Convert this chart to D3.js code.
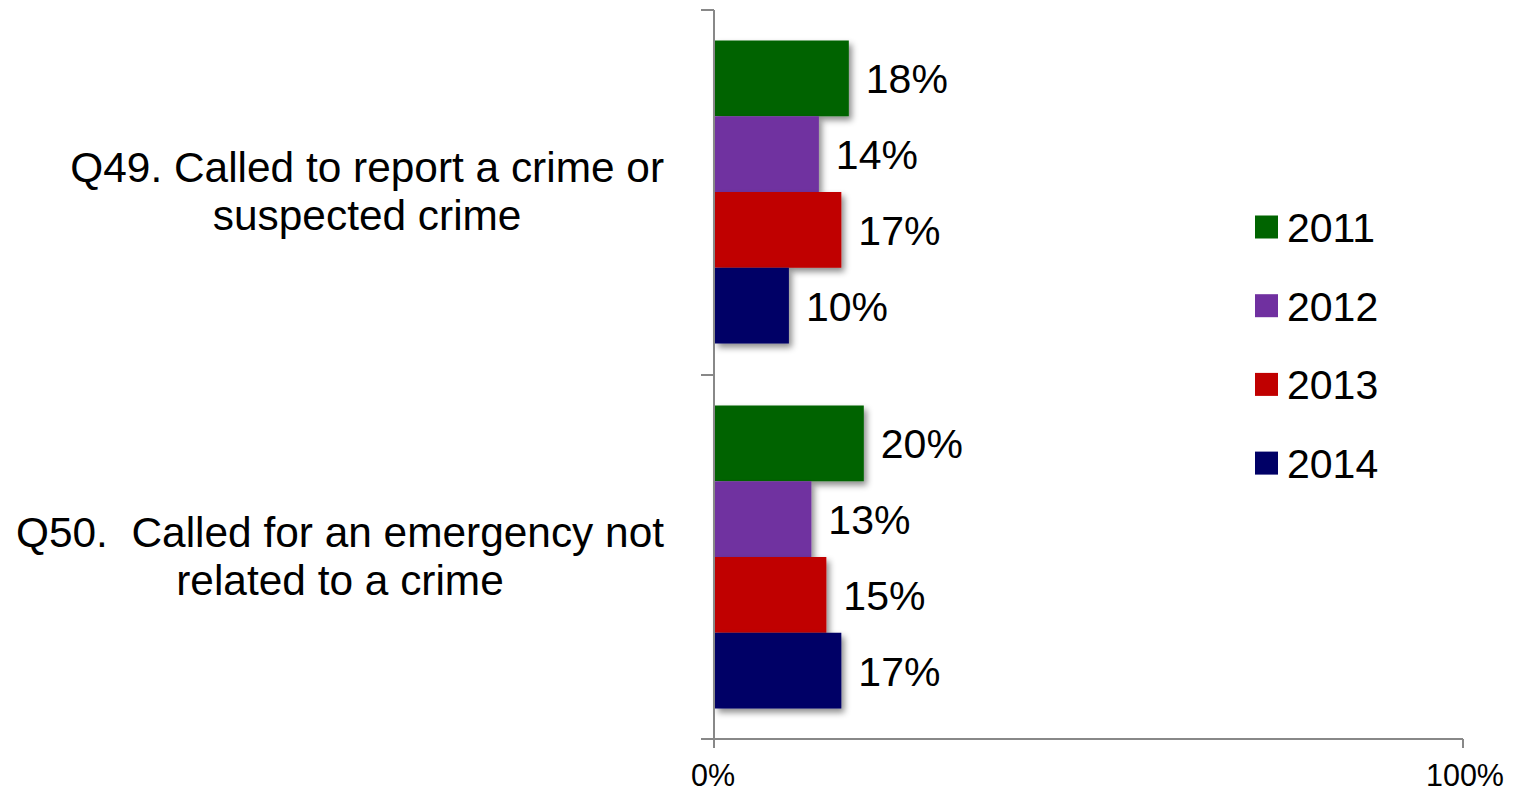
<!DOCTYPE html>
<html>
<head>
<meta charset="utf-8">
<script src="https://cdn.jsdelivr.net/npm/d3@7"></script>
<style>
  html, body { margin: 0; padding: 0; background: #fff; }
  svg { display: block; font-family: "Liberation Sans", Arial, sans-serif; }
</style>
</head>
<body>
<svg id="chart" width="1517" height="793"></svg>
<script>
// Survey questions (each drawn on two lines)
const questions = [
  ["Q49. Called to report a crime or", "suspected crime"],
  ["Q50.  Called for an emergency not", "related to a crime"]
];
const questionKeys = ["Q49", "Q50"];
const years = ["2011", "2012", "2013", "2014"];
const colors = ["#006400", "#7030A0", "#C00000", "#000066"];
// Percent of respondents, one array per year (Q49, Q50)
const values2011 = [18, 20];
const values2012 = [14, 13];
const values2013 = [17, 15];
const values2014 = [10, 17];
const xTicks = [0, 100];

const series = [values2011, values2012, values2013, values2014];

const svg = d3.select("#chart");
const axisColor = "#888888";

// Drop shadow under the bars
const defs = svg.append("defs");
const f = defs.append("filter").attr("id", "shadow")
  .attr("x", "-10%").attr("y", "-10%").attr("width", "130%").attr("height", "140%");
f.append("feDropShadow").attr("dx", 3).attr("dy", 4).attr("stdDeviation", 3)
  .attr("flood-color", "#000").attr("flood-opacity", 0.45);

const x = d3.scaleLinear().domain([0, 100]).range([714, 1463]);
const y = d3.scaleBand().domain(questionKeys).range([10, 740]).paddingInner(0).paddingOuter(0);
const yInner = d3.scaleBand().domain(years)
  .range([30.5, y.bandwidth() - 31.5]).padding(0);

// Bars with value labels
years.forEach((yr, si) => {
  const g = svg.append("g");
  questionKeys.forEach((q, qi) => {
    const v = series[si][qi];
    const top = y(q) + yInner(yr);
    g.append("rect")
      .attr("x", x(0) + 1)
      .attr("y", top)
      .attr("width", x(v) - x(0) - 1)
      .attr("height", yInner.bandwidth())
      .attr("fill", colors[si])
      .attr("filter", "url(#shadow)");
    svg.append("text")
      .attr("x", x(v) + 17)
      .attr("y", top + yInner.bandwidth() / 2 + 15)
      .attr("font-size", 41)
      .attr("fill", "#000")
      .text(v + "%");
  });
});

// Axes
const axisG = svg.append("g").attr("stroke", axisColor).attr("stroke-width", 2).attr("fill", "none");
axisG.append("line").attr("x1", 714).attr("x2", 714).attr("y1", 10).attr("y2", 748);
axisG.append("line").attr("x1", 701).attr("x2", 1463).attr("y1", 739).attr("y2", 739);
// category ticks
questionKeys.forEach(q => {
  const p = y(q);
  axisG.append("line").attr("x1", 701).attr("x2", 714).attr("y1", p).attr("y2", p);
});
// value ticks
xTicks.forEach(t => {
  axisG.append("line").attr("x1", x(t)).attr("x2", x(t)).attr("y1", 739).attr("y2", 748);
  svg.append("text")
    .attr("x", x(t) + (t === 0 ? -1 : 2))
    .attr("y", 786)
    .attr("text-anchor", "middle")
    .attr("font-size", 30.5)
    .attr("fill", "#000")
    .text(t + "%");
});

// Category labels: centred lines, block right-aligned next to the axis
questions.forEach((lines, qi) => {
  const cy = y(questionKeys[qi]) + y.bandwidth() / 2;
  const t = svg.append("text")
    .attr("font-size", 42.4)
    .attr("fill", "#000")
    .attr("text-anchor", "middle")
    .style("white-space", "pre");
  const spans = lines.map((line, li) =>
    t.append("tspan").attr("y", cy - 10.5 + li * 48).text(line));
  const widths = spans.map(s => s.node().getComputedTextLength());
  const blockW = d3.max(widths);
  const cx = 664 - blockW / 2;
  spans.forEach(s => s.attr("x", cx));
});

// Legend
const legend = svg.append("g");
years.forEach((yr, i) => {
  const cy = 227 + i * 78.7;
  legend.append("rect")
    .attr("x", 1255).attr("y", cy - 11.5)
    .attr("width", 23).attr("height", 23)
    .attr("fill", colors[i]);
  legend.append("text")
    .attr("x", 1287).attr("y", cy + 15)
    .attr("font-size", 41)
    .attr("fill", "#000")
    .text(yr);
});
</script>
</body>
</html>
